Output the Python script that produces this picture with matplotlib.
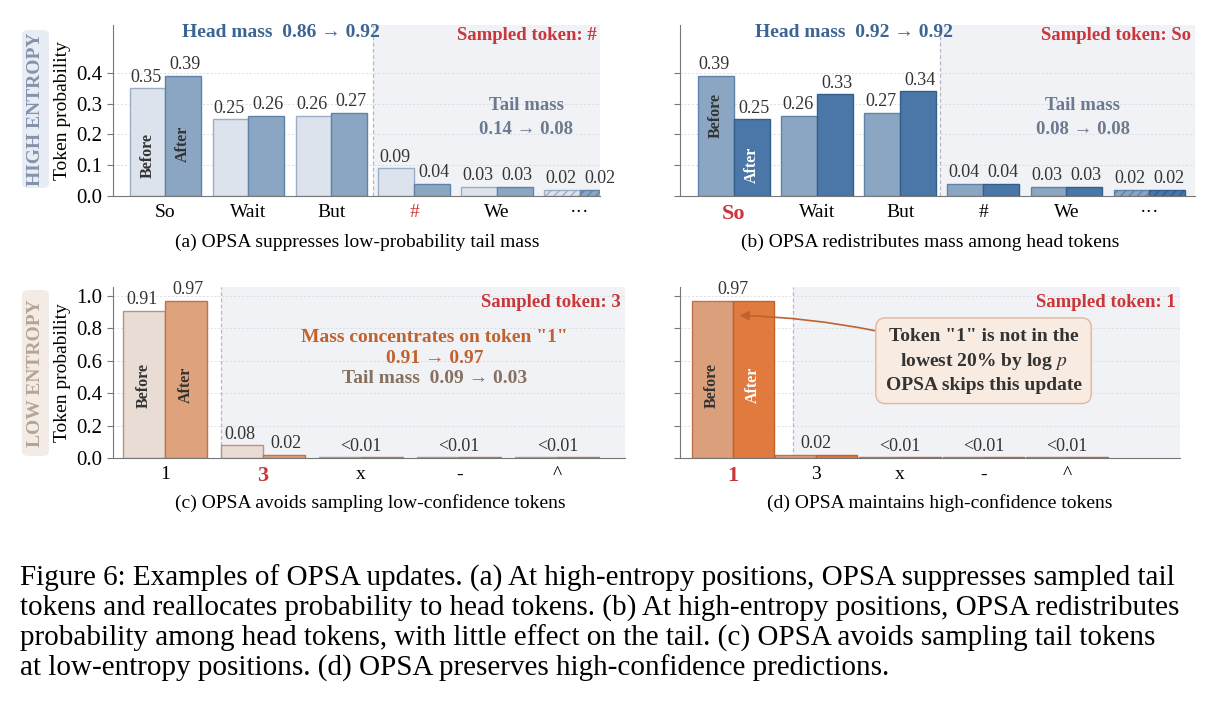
import matplotlib
matplotlib.use("Agg")
import matplotlib.pyplot as plt
import numpy as np
from matplotlib.patches import FancyBboxPatch

plt.rcParams['font.family'] = ['Liberation Serif', 'DejaVu Serif']
plt.rcParams['mathtext.fontset'] = 'stix'

cats_ab = ["So", "Wait", "But", "#", "We", "\u00b7\u00b7\u00b7"]
a_before = [0.35, 0.25, 0.26, 0.09, 0.03, 0.02]
a_after = [0.39, 0.26, 0.27, 0.04, 0.03, 0.02]
b_before = [0.39, 0.26, 0.27, 0.04, 0.03, 0.02]
b_after = [0.25, 0.33, 0.34, 0.04, 0.03, 0.02]
cats_cd = ["1", "3", "x", "-", "^"]
c_before = [0.91, 0.08, 0.004, 0.004, 0.004]
c_after = [0.97, 0.02, 0.004, 0.004, 0.004]
d_before = [0.97, 0.02, 0.004, 0.004, 0.004]
d_after = [0.97, 0.02, 0.004, 0.004, 0.004]
cd_labels_before = ["0.91", "0.08", "<0.01", "<0.01", "<0.01"]
cd_labels_after = ["0.97", "0.02", "", "", ""]
d_labels = ["0.97", "0.02", "<0.01", "<0.01", "<0.01"]

W, H = 1222, 707
fig = plt.figure(figsize=(W/100, H/100), dpi=100)

def ax_at(x0, y0, x1, y1):
    return fig.add_axes([x0/W, 1-y1/H, (x1-x0)/W, (y1-y0)/H])

SHADE = "#f1f2f5"
VF = 13

def base(ax, cats, xlim, ylim, split, yticks, showy):
    ax.set_xlim(*xlim); ax.set_ylim(*ylim)
    ax.axvspan(split, xlim[1], color=SHADE, zorder=0, lw=0)
    ax.axvline(split, color="#b5b8bf", ls=(0, (3, 2)), lw=0.9, zorder=1)
    ax.set_yticks(yticks)
    ax.yaxis.grid(True, color="#dcdde2", ls=(0, (2, 2)), lw=0.7)
    ax.set_axisbelow(True)
    for s in ["top", "right"]:
        ax.spines[s].set_visible(False)
    ax.spines["left"].set_color("#777777")
    ax.spines["bottom"].set_color("#777777")
    ax.set_xticks(range(len(cats)))
    ax.set_xticklabels(cats, fontsize=14)
    ax.tick_params(axis="x", length=0, pad=6)
    ax.tick_params(axis="y", labelsize=15, color="#777777", length=4)
    if not showy:
        ax.set_yticklabels([])
    else:
        ax.set_ylabel("Token probability", fontsize=14, labelpad=4)

def bars(ax, before, after, cb, eb, ca, ea, bw, hatch_last=False):
    x = np.arange(len(before))
    r1 = ax.bar(x-bw/2, before, bw, color=cb, edgecolor=eb, lw=1.0, zorder=2)
    r2 = ax.bar(x+bw/2, after, bw, color=ca, edgecolor=ea, lw=1.0, zorder=2)
    if hatch_last:
        r1[-1].set_hatch("////"); r2[-1].set_hatch("////")
    return x

# ---- (a)
bw = 0.43
axa = ax_at(113, 25, 600, 196)
base(axa, cats_ab, (-0.63, 5.24), (0, 0.555), 2.5, [0, 0.1, 0.2, 0.3, 0.4], True)
plt.rcParams['hatch.color'] = "#7f9ab8"
x = bars(axa, a_before, a_after, "#dce3ec", "#9aaec6", "#8ba6c2", "#5f83a8", bw, True)
for i in range(6):
    axa.text(x[i]-bw/2-0.02, a_before[i]+0.008, f"{a_before[i]:.2f}", ha="center", va="bottom", fontsize=VF, color="#333")
    axa.text(x[i]+bw/2+0.02, a_after[i]+0.008, f"{a_after[i]:.2f}", ha="center", va="bottom", fontsize=VF, color="#333")
axa.get_xticklabels()[3].set_color("#c9373b")
axa.text(-bw/2, 0.13, "Before", rotation=90, ha="center", va="center", fontsize=11.5, weight="bold", color="#333")
axa.text(bw/2, 0.17, "After", rotation=90, ha="center", va="center", fontsize=11.5, weight="bold", color="#333")
axa.text(1.4, 0.53, "Head mass  0.86 \u2192 0.92", ha="center", va="center", fontsize=14, weight="bold", color="#3d6593")
axa.text(5.2, 0.52, "Sampled token: #", ha="right", va="center", fontsize=13.5, weight="bold", color="#c9373b")
axa.text(4.35, 0.255, "Tail mass\n0.14 \u2192 0.08", ha="center", va="center", fontsize=13.5, weight="bold", color="#6b7a8f", linespacing=1.5)

# ---- (b)
axb = ax_at(680, 25, 1195, 196)
base(axb, cats_ab, (-0.65, 5.55), (0, 0.555), 2.48, [0, 0.1, 0.2, 0.3, 0.4], False)
x = bars(axb, b_before, b_after, "#8ba6c2", "#5f83a8", "#4a77a7", "#335f8f", bw, True)
for i in range(6):
    axb.text(x[i]-bw/2-0.02, b_before[i]+0.008, f"{b_before[i]:.2f}", ha="center", va="bottom", fontsize=VF, color="#333")
    axb.text(x[i]+bw/2+0.02, b_after[i]+0.008, f"{b_after[i]:.2f}", ha="center", va="bottom", fontsize=VF, color="#333")
tl = axb.get_xticklabels()[0]; tl.set_color("#c9373b"); tl.set_fontsize(16); tl.set_weight("bold")
axb.text(-bw/2, 0.26, "Before", rotation=90, ha="center", va="center", fontsize=11.5, weight="bold", color="#333")
axb.text(bw/2, 0.1, "After", rotation=90, ha="center", va="center", fontsize=11.5, weight="bold", color="white")
axb.text(1.45, 0.53, "Head mass  0.92 \u2192 0.92", ha="center", va="center", fontsize=14, weight="bold", color="#3d6593")
axb.text(5.5, 0.52, "Sampled token: So", ha="right", va="center", fontsize=13.5, weight="bold", color="#c9373b")
axb.text(4.2, 0.255, "Tail mass\n0.08 \u2192 0.08", ha="center", va="center", fontsize=13.5, weight="bold", color="#6b7a8f", linespacing=1.5)

# ---- (c)
bwc = 0.43
axc = ax_at(113, 287, 625, 458)
base(axc, cats_cd, (-0.53, 4.69), (0, 1.055), 0.57, [0, 0.2, 0.4, 0.6, 0.8, 1.0], True)
x = bars(axc, c_before, c_after, "#e8dcd5", "#b99283", "#dea27c", "#c27048", bwc)
for i in range(5):
    if cd_labels_after[i]:
        axc.text(x[i]-bwc/2-0.02, c_before[i]+0.015, cd_labels_before[i], ha="center", va="bottom", fontsize=VF, color="#333")
        axc.text(x[i]+bwc/2+0.02, c_after[i]+0.015, cd_labels_after[i], ha="center", va="bottom", fontsize=VF, color="#333")
    else:
        axc.text(x[i], c_after[i]+0.015, cd_labels_before[i], ha="center", va="bottom", fontsize=VF, color="#333")
tl = axc.get_xticklabels()[1]; tl.set_color("#c9373b"); tl.set_fontsize(16); tl.set_weight("bold")
axc.text(-bwc/2, 0.45, "Before", rotation=90, ha="center", va="center", fontsize=11.5, weight="bold", color="#333")
axc.text(bwc/2, 0.45, "After", rotation=90, ha="center", va="center", fontsize=11.5, weight="bold", color="#333")
axc.text(4.65, 0.96, "Sampled token: 3", ha="right", va="center", fontsize=13.5, weight="bold", color="#c9373b")
axc.text(2.75, 0.745, "Mass concentrates on token \"1\"", ha="center", va="center", fontsize=14, weight="bold", color="#c0622e")
axc.text(2.75, 0.615, "0.91 \u2192 0.97", ha="center", va="center", fontsize=14, weight="bold", color="#c0622e")
axc.text(2.75, 0.49, "Tail mass  0.09 \u2192 0.03", ha="center", va="center", fontsize=14, weight="bold", color="#86705f")

# ---- (d)
bwd = 0.49
axd = ax_at(680, 287, 1180, 458)
base(axd, cats_cd, (-0.63, 5.35), (0, 1.055), 0.72, [0, 0.2, 0.4, 0.6, 0.8, 1.0], False)
x = bars(axd, d_before, d_after, "#dba07b", "#c27048", "#e07a3f", "#c0622e", bwd)
for i in range(5):
    axd.text(x[i], max(d_before[i], d_after[i])+0.015, d_labels[i], ha="center", va="bottom", fontsize=VF, color="#333")
tl = axd.get_xticklabels()[0]; tl.set_color("#c9373b"); tl.set_fontsize(16); tl.set_weight("bold")
axd.text(-bwd/2, 0.45, "Before", rotation=90, ha="center", va="center", fontsize=11.5, weight="bold", color="#333")
axd.text(bwd/2, 0.45, "After", rotation=90, ha="center", va="center", fontsize=11.5, weight="bold", color="white")
axd.text(5.3, 0.96, "Sampled token: 1", ha="right", va="center", fontsize=13.5, weight="bold", color="#c9373b")
axd.annotate("Token \"1\" is not in the\nlowest 20% by log $p$\nOPSA skips this update",
             xy=(0.05, 0.88), xytext=(3.0, 0.6), ha="center", va="center",
             fontsize=14, weight="bold", color="#333", linespacing=1.4,
             bbox=dict(boxstyle="round,pad=0.5", fc="#f8ebe2", ec="#e2b79c", lw=1),
             arrowprops=dict(arrowstyle="-|>", color="#c0622e", lw=1.2,
                             connectionstyle="arc3,rad=0.08", shrinkA=0, shrinkB=2))

# side labels
def side(y0, y1, text, fc, tc):
    fig.patches.append(FancyBboxPatch((22/W, 1-y1/H), 27/W, (y1-y0)/H,
                       boxstyle="round,pad=0,rounding_size=0.006", fc=fc, ec="none",
                       transform=fig.transFigure, zorder=0))
    fig.text(35.5/W, 1-(y0+y1)/2/H, text, rotation=90, ha="center", va="center",
             fontsize=14, weight="bold", color=tc)
side(30, 188, "HIGH ENTROPY", "#e8edf5", "#8593aa")
side(290, 456, "LOW ENTROPY", "#f3ece6", "#b5a596")

# subcaptions
fig.text(357/W, 1-242/H, "(a) OPSA suppresses low-probability tail mass", ha="center", va="center", fontsize=14)
fig.text(930/W, 1-242/H, "(b) OPSA redistributes mass among head tokens", ha="center", va="center", fontsize=14)
fig.text(370/W, 1-503/H, "(c) OPSA avoids sampling low-confidence tokens", ha="center", va="center", fontsize=14)
fig.text(940/W, 1-503/H, "(d) OPSA maintains high-confidence tokens", ha="center", va="center", fontsize=14)

cap = ["Figure 6: Examples of OPSA updates. (a) At high-entropy positions, OPSA suppresses sampled tail",
       "tokens and reallocates probability to head tokens. (b) At high-entropy positions, OPSA redistributes",
       "probability among head tokens, with little effect on the tail. (c) OPSA avoids sampling tail tokens",
       "at low-entropy positions. (d) OPSA preserves high-confidence predictions."]
for i, line in enumerate(cap):
    fig.text(20/W, 1-(578+30*i)/H, line, ha="left", va="center", fontsize=21)

fig.savefig("out.png", dpi=100, facecolor="white")
